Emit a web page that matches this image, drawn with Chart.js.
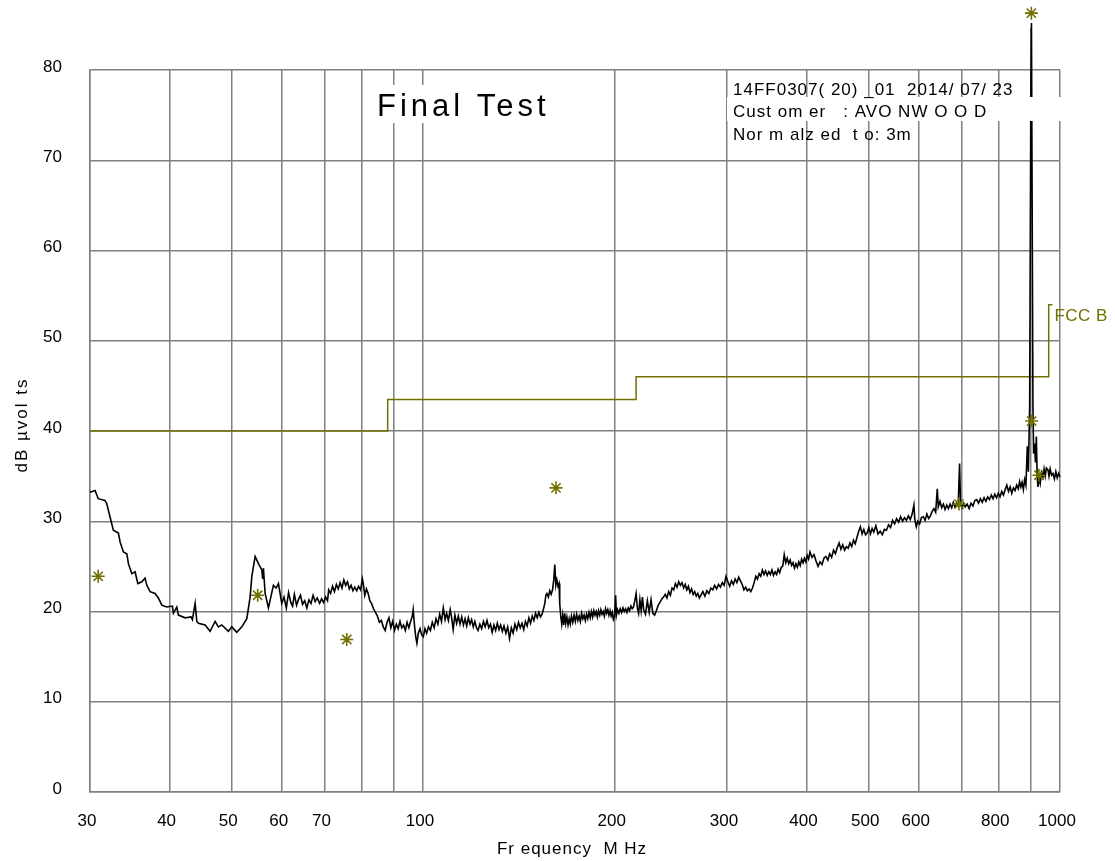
<!DOCTYPE html>
<html>
<head>
<meta charset="utf-8">
<title>Final Test</title>
<script src="https://cdn.jsdelivr.net/npm/chart.js@4.4.1/dist/chart.umd.min.js"></script>
<style>
  html, body { margin: 0; padding: 0; background: #fff; }
  canvas { display: block; }
</style>
</head>
<body>
<canvas id="scan" width="1115" height="861"></canvas>
<script>
// scan trace, MHz / dBuV
const traceFreq = [
  30.0, 30.55, 30.91, 31.66, 31.86, 32.25, 32.64, 33.24, 33.45, 33.85,
  34.27, 34.47, 34.89, 35.31, 35.66, 36.18, 36.61, 36.84, 37.28, 37.96,
  38.41, 38.89, 39.6, 40.41, 40.56, 41.06, 41.3, 42.31, 43.24, 43.44,
  43.87, 44.14, 44.4, 45.48, 46.31, 47.16, 47.72, 48.31, 49.48, 50.09,
  51.0, 51.94, 52.88, 53.52, 53.85, 54.5, 55.15, 55.83, 56.0, 56.16,
  56.5, 57.18, 58.22, 58.8, 59.29, 60.0, 60.5, 61.0, 61.5, 62.0,
  62.4, 62.8, 63.3, 63.8, 64.2, 64.7, 65.2, 65.7, 66.2, 66.7,
  67.2, 67.7, 68.2, 68.8, 69.3, 69.8, 70.3, 70.8, 71.1, 71.6,
  72.1, 72.6, 73.1, 73.6, 74.1, 74.6, 75.1, 75.6, 76.1, 76.6,
  77.1, 77.6, 78.1, 78.7, 79.2, 79.8, 80.3, 80.6, 81.0, 81.5,
  82.0, 82.5, 83.0, 83.6, 84.2, 84.8, 85.4, 86.0, 86.6, 87.2,
  87.8, 88.4, 89.0, 89.6, 90.2, 90.8, 91.4, 92.0, 92.6, 93.2,
  93.8, 94.4, 95.0, 95.6, 96.2, 96.5, 97.0, 97.4, 97.8, 98.3,
  98.9, 99.5, 100.1, 100.7, 101.3, 102.0, 102.7, 103.4, 104.1, 104.8,
  105.5, 106.2, 106.9, 107.6, 108.3, 108.9, 109.6, 110.3, 110.9, 111.5,
  112.2, 112.9, 113.6, 114.3, 115.0, 115.7, 116.4, 117.1, 117.8, 118.5,
  119.2, 119.9, 120.6, 121.3, 122.0, 122.8, 123.6, 124.4, 125.2, 126.0,
  126.8, 127.6, 128.4, 129.2, 130.0, 130.8, 131.6, 132.4, 133.2, 134.0,
  134.9, 135.8, 136.7, 137.6, 138.5, 139.4, 140.3, 141.2, 142.1, 143.0,
  143.9, 144.8, 145.7, 146.6, 147.5, 148.4, 149.3, 150.2, 151.1, 152.0,
  152.9, 153.8, 154.7, 155.3, 155.9, 156.5, 157.3, 158.1, 158.9, 159.7,
  160.4, 161.0, 161.6, 162.2, 162.9, 163.5, 163.9, 164.5, 165.1, 165.7,
  166.3, 166.9, 167.5, 168.2, 168.9, 169.6, 170.3, 171.0, 171.8, 172.6,
  173.4, 174.2, 175.0, 175.8, 176.6, 177.4, 178.2, 179.0, 179.8, 180.6,
  181.4, 182.2, 183.0, 183.8, 184.6, 185.4, 186.2, 187.0, 187.8, 188.6,
  189.4, 190.2, 191.0, 191.8, 192.6, 193.4, 194.2, 195.0, 195.8, 196.6,
  197.4, 198.2, 199.0, 199.8, 200.6, 201.2, 202.0, 203.0, 204.0, 205.0,
  206.0, 207.0, 208.0, 209.0, 210.0, 211.0, 212.0, 213.0, 214.0, 215.0,
  216.0, 217.0, 218.0, 219.0, 220.0, 221.0, 222.0, 223.5, 225.0, 226.5,
  228.0, 229.5, 231.0, 232.5, 234.0, 235.5, 237.0, 238.5, 240.0, 241.5,
  243.0, 244.5, 246.0, 247.5, 249.0, 250.5, 252.0, 253.5, 255.0, 256.5,
  258.0, 259.5, 261.0, 262.5, 264.0, 265.5, 267.0, 268.5, 270.0, 271.5,
  273.0, 275.0, 277.0, 279.0, 281.0, 283.0, 285.0, 287.0, 289.0, 291.0,
  293.0, 295.0, 297.0, 299.0, 301.0, 303.0, 305.0, 307.0, 309.0, 311.0,
  313.0, 315.0, 317.0, 319.0, 321.0, 323.0, 325.0, 327.0, 329.0, 331.0,
  333.0, 335.0, 337.0, 339.0, 341.0, 343.0, 345.0, 347.0, 349.0, 351.0,
  353.0, 355.0, 357.0, 359.0, 361.0, 363.0, 365.0, 367.0, 369.0, 371.0,
  373.0, 375.0, 377.0, 379.0, 381.0, 383.0, 385.0, 387.0, 389.0, 391.0,
  393.0, 395.0, 397.0, 399.0, 401.0, 403.0, 405.0, 408.0, 411.0, 414.0,
  417.0, 420.0, 423.0, 426.0, 429.0, 432.0, 435.0, 438.0, 441.0, 444.0,
  447.0, 450.0, 453.0, 456.0, 459.0, 462.0, 465.0, 468.0, 471.0, 474.0,
  477.0, 480.0, 483.0, 486.0, 489.0, 492.0, 495.0, 498.0, 501.0, 504.0,
  507.0, 510.0, 514.0, 518.0, 522.0, 526.0, 530.0, 534.0, 538.0, 542.0,
  546.0, 550.0, 554.0, 558.0, 562.0, 566.0, 570.0, 574.0, 578.0, 582.0,
  586.0, 589.7, 591.5, 594.8, 598.0, 602.0, 606.0, 610.0, 614.0, 618.0,
  622.0, 626.0, 630.0, 634.0, 638.0, 641.7, 644.0, 648.0, 652.0, 656.0,
  660.0, 664.0, 668.0, 672.0, 676.0, 680.0, 684.0, 688.0, 692.0, 695.6,
  698.0, 702.0, 706.0, 710.0, 715.0, 720.0, 725.0, 730.0, 735.0, 740.0,
  745.0, 750.0, 755.0, 760.0, 765.0, 770.0, 775.0, 780.0, 785.0, 790.0,
  795.0, 800.0, 805.0, 810.0, 815.0, 820.0, 825.0, 830.0, 835.0, 840.0,
  845.0, 850.0, 855.0, 860.0, 864.2, 868.0, 872.0, 876.0, 880.0, 884.0,
  888.6, 892.0, 896.1, 900.8, 901.6, 902.4, 906.8, 909.0, 912.4, 915.0,
  918.1, 920.5, 923.4, 927.0, 931.0, 935.0, 940.2, 944.0, 948.0, 952.0,
  957.4, 961.0, 965.0, 970.0, 974.9, 980.0, 985.0, 990.0, 995.0, 1000
];
const traceLevel = [
  33.2, 33.4, 32.5, 32.3, 32.0, 30.5, 29.0, 28.7, 27.7, 26.6,
  26.4, 25.3, 24.2, 24.4, 23.1, 23.3, 23.7, 22.9, 22.2, 22.0,
  21.5, 20.7, 20.5, 20.6, 19.8, 20.5, 19.6, 19.3, 19.4, 19.1,
  20.9, 18.9, 18.7, 18.5, 17.8, 18.9, 18.3, 18.5, 17.8, 18.3,
  17.7, 18.3, 19.2, 21.6, 23.9, 26.1, 25.3, 24.6, 23.6, 24.8,
  22.0, 20.4, 22.9, 22.6, 23.1, 20.9, 21.6, 20.4, 22.1, 21.0,
  20.6, 21.9, 20.7, 21.4, 21.8, 20.8, 21.2, 20.4, 21.3, 20.9,
  21.8, 21.1, 21.5, 20.9, 21.4, 21.0, 21.6, 21.2, 22.4, 22.0,
  22.8, 22.2, 23.0, 22.5, 23.2, 22.6, 23.5, 22.9, 23.3, 22.5,
  22.9, 22.3, 22.7, 22.3, 22.8, 22.4, 23.6, 23.0, 21.8, 22.5,
  22.0, 21.2, 20.9, 20.3, 19.9, 19.5, 18.8, 19.0, 18.3, 17.9,
  18.8, 19.3, 18.2, 18.9, 17.9, 18.6, 18.1, 18.9, 18.2, 18.5,
  17.9, 18.8, 18.2, 18.9, 19.5, 20.2, 18.3, 17.2, 16.5, 17.6,
  18.1, 17.4, 17.2, 18.1, 17.6, 18.3, 17.9, 18.8, 18.2, 19.2,
  18.6, 19.7, 18.9, 20.4, 19.1, 19.8, 19.0, 20.2, 19.3, 18.0,
  19.6, 18.7, 19.5, 18.6, 19.4, 18.5, 19.2, 18.4, 19.3, 18.6,
  19.1, 18.3, 18.9, 18.2, 17.9, 18.6, 18.1, 18.9, 18.3, 19.0,
  18.2, 18.6, 17.7, 18.5, 17.9, 18.7, 18.0, 18.5, 17.8, 18.4,
  17.6, 18.3, 17.0, 18.2, 17.6, 18.6, 18.0, 18.8, 18.2, 18.7,
  18.0, 18.9, 18.4, 19.3, 18.7, 19.5, 19.0, 19.8, 19.3, 19.9,
  19.4, 19.7, 20.4, 20.9, 21.8, 22.0, 21.6, 22.3, 21.9, 22.4,
  23.5, 25.2, 22.9, 23.5, 22.8, 23.1, 20.9, 19.5, 18.6, 19.6,
  18.5, 19.8, 18.7, 19.4, 18.5, 19.2, 18.6, 19.5, 18.8, 19.6,
  18.9, 19.7, 19.0, 19.5, 18.9, 19.8, 19.2, 19.6, 19.0, 19.7,
  19.2, 19.9, 19.3, 20.0, 19.4, 20.1, 19.6, 20.0, 19.4, 20.1,
  19.6, 20.2, 19.7, 20.0, 19.5, 20.3, 19.8, 20.2, 19.6, 20.1,
  19.5, 19.9, 19.1, 19.4, 21.8, 19.6, 20.2, 19.8, 20.3, 19.9,
  20.4, 20.0, 20.3, 19.9, 20.4, 20.1, 20.6, 20.3, 20.5, 21.2,
  22.0, 20.4, 19.8, 21.3, 20.1, 21.6, 20.2, 19.7, 21.2, 19.9,
  21.3, 19.8, 19.6, 20.1, 20.7, 21.0, 21.4, 21.6, 21.9, 21.5,
  22.2, 21.8, 22.6, 22.4, 23.1, 22.7, 23.3, 22.9, 23.2, 22.6,
  23.0, 22.4, 22.8, 22.1, 22.5, 21.9, 22.2, 21.7, 22.0, 21.5,
  21.8, 22.2, 21.7, 22.3, 22.0, 22.6, 22.4, 22.9, 22.5, 23.0,
  22.7, 23.2, 22.9, 23.9, 23.3, 22.8, 23.4, 23.0, 23.6, 23.2,
  23.8, 23.4, 23.0, 22.4, 22.7, 22.3, 22.5, 22.2, 22.6, 23.2,
  23.9, 23.6, 24.2, 23.9, 24.6, 24.1, 24.5, 24.0, 24.4, 24.1,
  24.6, 24.0, 24.4, 24.1, 24.7, 24.3, 24.9, 25.0, 26.3, 25.4,
  25.9, 25.3, 25.7, 25.1, 25.4, 24.8, 25.3, 24.9, 25.5, 25.1,
  25.8, 25.4, 25.9, 25.5, 26.2, 25.8, 26.6, 26.0, 26.3, 25.6,
  25.0, 25.5, 25.2, 25.9, 26.1, 25.7, 26.4, 26.0, 26.8, 26.4,
  27.1, 27.6, 26.9, 27.4, 26.8, 27.2, 27.0, 27.6, 27.2, 27.9,
  27.5, 28.2, 28.9, 29.4, 28.6, 29.1, 28.5, 28.7, 29.3, 28.6,
  29.2, 28.8, 29.5, 28.6, 28.9, 28.5, 29.1, 29.0, 29.6, 29.3,
  30.1, 29.7, 30.3, 29.9, 30.5, 30.0, 30.4, 30.1, 30.6, 30.2,
  30.8, 31.8, 30.3, 29.4, 30.0, 29.7, 30.4, 30.5, 30.1, 30.8,
  30.3, 30.6, 31.1, 31.4, 31.0, 33.6, 31.6, 32.2, 31.5, 31.9,
  31.3, 31.8, 31.4, 31.9, 31.5, 32.1, 31.6, 32.0, 31.7, 36.4,
  31.9, 31.5, 32.0, 31.6, 31.9, 31.4, 32.0, 31.7, 32.3, 32.4,
  32.0, 32.5, 32.1, 32.6, 32.2, 32.7, 32.4, 32.9, 32.5, 33.0,
  32.6, 33.1, 32.7, 33.3, 32.9, 33.5, 34.0, 33.3, 33.8, 33.1,
  33.7, 33.4, 34.0, 33.6, 34.4, 33.8, 34.3, 33.5, 34.6, 34.0,
  38.3, 35.5, 42.7, 84.6, 85.2, 84.9, 42.7, 37.5, 38.6, 36.5,
  39.4, 35.2, 33.8, 34.9, 34.2, 35.4, 34.9, 35.8, 35.0, 35.9,
  35.7, 35.0, 35.8, 35.1, 35.3, 34.7, 35.5, 34.8, 35.3, 34.9
];

// FCC class B limit (3 m), each level holds up to the next frequency
const limitFreq = [30, 88, 216, 960, 973];
const limitLevel = [40, 43.5, 46, 54, 54];

// final measurement points
const peakFreq = [30.9, 55.0, 75.9, 161.7, 694, 902.7, 926.7, 901.6];
const peakLevel = [23.9, 21.8, 16.9, 33.7, 31.9, 41.1, 35.1, 86.3];

const gridFreq = [30, 40, 50, 60, 70, 80, 90, 100, 200, 300, 400, 500, 600, 700, 800, 900, 1000];
const labelFreq = [30, 40, 50, 60, 70, 100, 200, 300, 400, 500, 600, 800, 1000];
const levelTicks = [0, 10, 20, 30, 40, 50, 60, 70, 80];

const infoLines = [
  "14FF0307( 20) _01  2014/ 07/ 23",
  "Cust om er   : AVO NW O O D",
  "Nor m alz ed  t o: 3m"
];

const OLIVE = "#707000";
const GRID = "#808080";
const FONT = '"Liberation Sans", Arial, sans-serif';

const toPoints = (xs, ys) => xs.map((v, i) => ({ x: v, y: ys[i] }));

const overlay = {
  id: "overlay",
  afterDatasetsDraw(chart) {
    const { ctx, chartArea: area, scales: { x, y } } = chart;
    ctx.save();

    // points above the top gridline are skipped by the default draw
    const whole = { left: 0, top: 0, right: chart.width, bottom: chart.height };
    chart.getDatasetMeta(0).data.forEach((p) => {
      if (p.y < area.top) p.draw(ctx, whole);
    });

    // white boxes behind the heading and the customer line
    ctx.fillStyle = "#fff";
    ctx.fillRect(372, 85, 180, 38);
    ctx.fillRect(727, 97, area.right - 727 + 1, 24);

    ctx.fillStyle = "#000";
    ctx.textAlign = "left";
    ctx.textBaseline = "alphabetic";
    ctx.font = `31px ${FONT}`;
    ctx.letterSpacing = "4px";
    ctx.fillText("Final Test", 377, 116);

    ctx.font = `17px ${FONT}`;
    ctx.letterSpacing = "1px";
    infoLines.forEach((t, i) => ctx.fillText(t, 733, 94.5 + i * 22.5));

    // limit name next to the last step
    ctx.fillStyle = OLIVE;
    ctx.letterSpacing = "0.5px";
    ctx.fillText("FCC B", x.getPixelForValue(limitFreq[limitFreq.length - 1]) + 2,
      y.getPixelForValue(limitLevel[limitLevel.length - 1]) + 16);

    // axis titles
    ctx.fillStyle = "#000";
    ctx.textAlign = "center";
    ctx.letterSpacing = "1px";
    ctx.fillText("Fr equency  M Hz", (area.left + area.right) / 2 - 3, 854);

    ctx.letterSpacing = "2px";
    ctx.translate(22, (area.top + area.bottom) / 2 - 6);
    ctx.rotate(-Math.PI / 2);
    ctx.textBaseline = "middle";
    ctx.fillText("dB \u00b5vol ts", 0, 0);
    ctx.restore();
  }
};

new Chart(document.getElementById("scan"), {
  type: "scatter",
  data: {
    datasets: [
      {
        data: toPoints(peakFreq, peakLevel),
        showLine: false,
        pointStyle: "star",
        pointRadius: 6.5,
        pointBorderWidth: 1.6,
        pointBorderColor: OLIVE,
        pointBackgroundColor: OLIVE,
        clip: false
      },
      {
        data: toPoints(traceFreq, traceLevel),
        showLine: true,
        pointRadius: 0,
        borderColor: "#000",
        borderWidth: 1.6,
        clip: false
      },
      {
        data: toPoints(limitFreq, limitLevel),
        showLine: true,
        stepped: true,
        pointRadius: 0,
        borderColor: OLIVE,
        borderWidth: 1.5,
        clip: false
      }
    ]
  },
  options: {
    responsive: false,
    animation: false,
    events: [],
    layout: { padding: { top: 70, right: 55, bottom: 0, left: 0 } },
    plugins: { legend: { display: false }, tooltip: { enabled: false } },
    scales: {
      x: {
        type: "logarithmic",
        min: 30,
        max: 1000,
        afterBuildTicks: (s) => { s.ticks = gridFreq.map((v) => ({ value: v })); },
        afterFit: (s) => { s.height = 69; },
        grid: { color: GRID, lineWidth: 1.5, drawTicks: false },
        border: { color: GRID, width: 1.5 },
        ticks: {
          autoSkip: false,
          maxRotation: 0,
          padding: 19,
          labelOffset: -3,
          color: "#000",
          font: { family: FONT, size: 17 },
          callback: (v) => (labelFreq.includes(v) ? String(v) : "")
        }
      },
      y: {
        type: "linear",
        min: 0,
        max: 80,
        afterBuildTicks: (s) => { s.ticks = levelTicks.map((v) => ({ value: v })); },
        afterFit: (s) => { s.width = 90; },
        grid: { color: GRID, lineWidth: 1.5, drawTicks: false },
        border: { color: GRID, width: 1.5 },
        ticks: {
          padding: 28,
          labelOffset: -3,
          color: "#000",
          font: { family: FONT, size: 17 }
        }
      }
    }
  },
  plugins: [overlay]
});
</script>
</body>
</html>
